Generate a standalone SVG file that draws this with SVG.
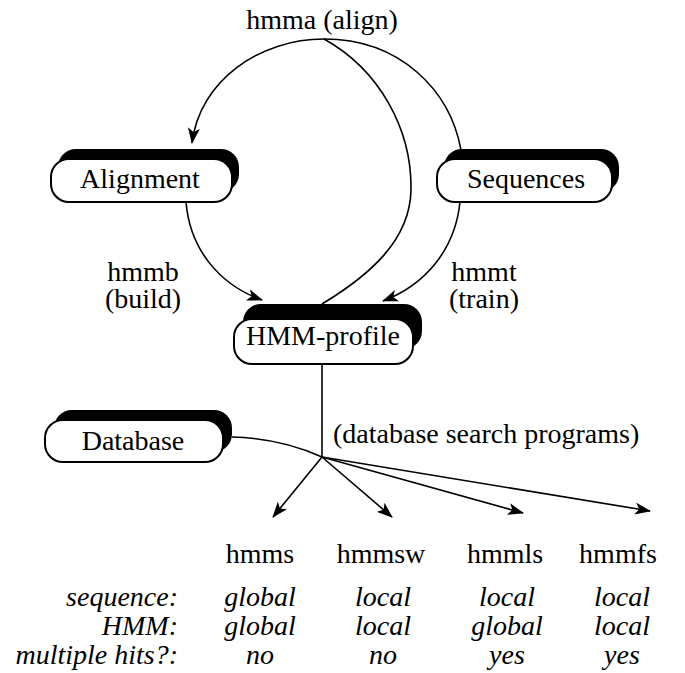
<svg xmlns="http://www.w3.org/2000/svg" width="685" height="673" viewBox="0 0 685 673" font-family="'Liberation Serif', 'Times New Roman', 'DejaVu Serif', serif">
<style>
text{font-family:'Liberation Serif','Times New Roman','DejaVu Serif',serif;font-size:28px;fill:#000}
.c{text-anchor:middle}
.r{text-anchor:end}
.i{font-style:italic}
.shadow{fill:#000}
.box{fill:#fff;stroke:#000;stroke-width:2}
.edge{fill:none;stroke:#000;stroke-width:1.6}
</style>
<defs>
<marker id="ah" viewBox="0 0 16 12" refX="15" refY="6" markerWidth="16" markerHeight="12" markerUnits="userSpaceOnUse" orient="auto">
<path d="M0,0 L16,6 L0,12 L4,6 Z" fill="#000"/>
</marker>
</defs>
<rect width="685" height="673" fill="#fff"/>
<g id="connectors">
<path class="edge" d="M324,39 C260,39 200,80 192,143" marker-end="url(#ah)"/>
<path class="edge" d="M324,39 C400,39 450,90 461,150"/>
<path class="edge" d="M324,39 C380,70 412,130 411,190 C410,240 370,275 322,304"/>
<path class="edge" d="M186,202 C190,250 220,285 262,300" marker-end="url(#ah)"/>
<path class="edge" d="M460,202 C455,250 425,285 383,301" marker-end="url(#ah)"/>
<path class="edge" d="M322,364 L322,457"/>
<path class="edge" d="M232,437 C270,438 300,447 322,457"/>
<path class="edge" d="M322,457 L273,517" marker-end="url(#ah)"/>
<path class="edge" d="M322,457 L392,517" marker-end="url(#ah)"/>
<path class="edge" d="M322,457 L523,513" marker-end="url(#ah)"/>
<path class="edge" d="M322,457 L650,511" marker-end="url(#ah)"/>
</g>
<g id="label-hmma"><text class="c" x="322" y="29">hmma (align)</text></g>
<g id="label-hmmb"><text class="c" x="143" y="281">hmmb</text><text class="c" x="143" y="308">(build)</text></g>
<g id="label-hmmt"><text class="c" x="484" y="281">hmmt</text><text class="c" x="484" y="308">(train)</text></g>
<g id="label-search"><text x="333" y="443">(database search programs)</text></g>
<g id="node-alignment">
<rect class="shadow" x="58" y="149" width="181" height="43" rx="18"/>
<rect class="box" x="51" y="159" width="181" height="43" rx="18"/>
<text class="c" x="140" y="188">Alignment</text>
</g>
<g id="node-sequences">
<rect class="shadow" x="444" y="149" width="175" height="43" rx="18"/>
<rect class="box" x="437" y="159" width="175" height="43" rx="18"/>
<text class="c" x="526" y="188">Sequences</text>
</g>
<g id="node-hmm-profile">
<rect class="shadow" x="243" y="304" width="179" height="45" rx="18"/>
<rect class="box" x="234" y="319" width="179" height="45" rx="18"/>
<text class="c" x="323" y="345">HMM-profile</text>
</g>
<g id="node-database">
<rect class="shadow" x="54" y="410" width="178" height="42" rx="18"/>
<rect class="box" x="45" y="420" width="178" height="42" rx="18"/>
<text class="c" x="133" y="450">Database</text>
</g>
<g id="table">
<text class="c" x="260" y="563">hmms</text>
<text class="c" x="381" y="563">hmmsw</text>
<text class="c" x="505" y="563">hmmls</text>
<text class="c" x="618" y="563">hmmfs</text>
<text class="r i" x="178" y="606">sequence:</text>
<text class="r i" x="178" y="635">HMM:</text>
<text class="r i" x="178" y="664">multiple hits?:</text>
<text class="c i" x="260" y="606">global</text>
<text class="c i" x="383" y="606">local</text>
<text class="c i" x="507" y="606">local</text>
<text class="c i" x="622" y="606">local</text>
<text class="c i" x="260" y="635">global</text>
<text class="c i" x="383" y="635">local</text>
<text class="c i" x="507" y="635">global</text>
<text class="c i" x="622" y="635">local</text>
<text class="c i" x="260" y="664">no</text>
<text class="c i" x="383" y="664">no</text>
<text class="c i" x="507" y="664">yes</text>
<text class="c i" x="622" y="664">yes</text>
</g>
</svg>
